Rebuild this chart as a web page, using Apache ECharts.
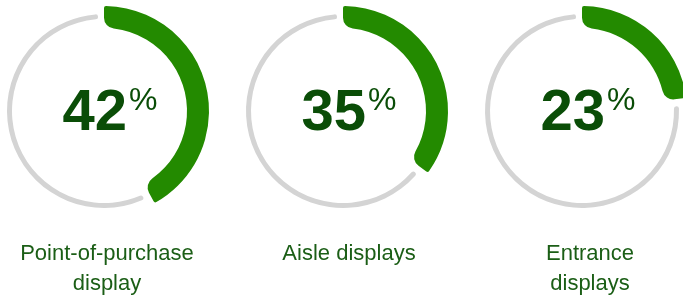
<!DOCTYPE html>
<html>
<head>
<meta charset="utf-8">
<style>
    html, body { margin: 0; padding: 0; background: #fff; }
    #chart { width: 683px; height: 299px; }
</style>
<script src="https://cdn.jsdelivr.net/npm/echarts@6/dist/echarts.min.js"></script>
</head>
<body>
<div id="chart"></div>
<script>
    // data
    var categories = ['Point-of-purchase\ndisplay', 'Aisle displays', 'Entrance\ndisplays'];
    var shares = [42, 35, 23];

    // layout
    var ringX = [104, 343, 582];
    var ringY = 111;
    var labelX = [107, 349, 590];
    var gapAfter = 1.2, gapBefore = 1;

    var chart = echarts.init(document.getElementById('chart'));
    var series = [];
    var graphics = [];

    for (var i = 0; i < shares.length; i++) {
        var v = shares[i];
        // grey track, only the part not covered by the value
        series.push({
            type: 'pie',
            silent: true,
            center: [ringX[i], ringY],
            radius: [92, 97],
            startAngle: 90,
            clockwise: true,
            label: {show: false},
            labelLine: {show: false},
            itemStyle: {borderRadius: 3},
            data: [
                {value: v + gapAfter, itemStyle: {color: 'transparent'}},
                {value: 100 - v - gapAfter - gapBefore, itemStyle: {color: '#d4d4d4'}},
                {value: gapBefore, itemStyle: {color: 'transparent'}}
            ]
        });
        // green value arc
        series.push({
            type: 'pie',
            silent: true,
            center: [ringX[i], ringY],
            radius: [83, 105],
            startAngle: 90,
            clockwise: true,
            label: {show: false},
            labelLine: {show: false},
            data: [
                {value: v, itemStyle: {color: '#238a00', borderRadius: [12, 2]}},
                {value: 100 - v, itemStyle: {color: 'transparent'}}
            ]
        });
        graphics.push({
            type: 'text',
            x: ringX[i] + 6,
            y: ringY + 3,
            style: {
                text: '{n|' + v + '}{p|%}',
                align: 'center',
                verticalAlign: 'middle',
                rich: {
                    n: {fontFamily: 'Liberation Sans', fontWeight: 'bold', fontSize: 58, fill: '#0a4d07'},
                    p: {fontFamily: 'Liberation Sans', fontSize: 32, fill: '#0a4d07', verticalAlign: 'top', padding: [0, 0, 18, 2]}
                }
            }
        });
        graphics.push({
            type: 'text',
            x: labelX[i],
            y: 239,
            style: {
                text: categories[i],
                align: 'center',
                verticalAlign: 'top',
                fontFamily: 'Liberation Sans',
                fontSize: 22,
                lineHeight: 30,
                fill: '#1b5e16'
            }
        });
    }

    chart.setOption({
        animation: false,
        series: series,
        graphic: graphics
    });
</script>
</body>
</html>
